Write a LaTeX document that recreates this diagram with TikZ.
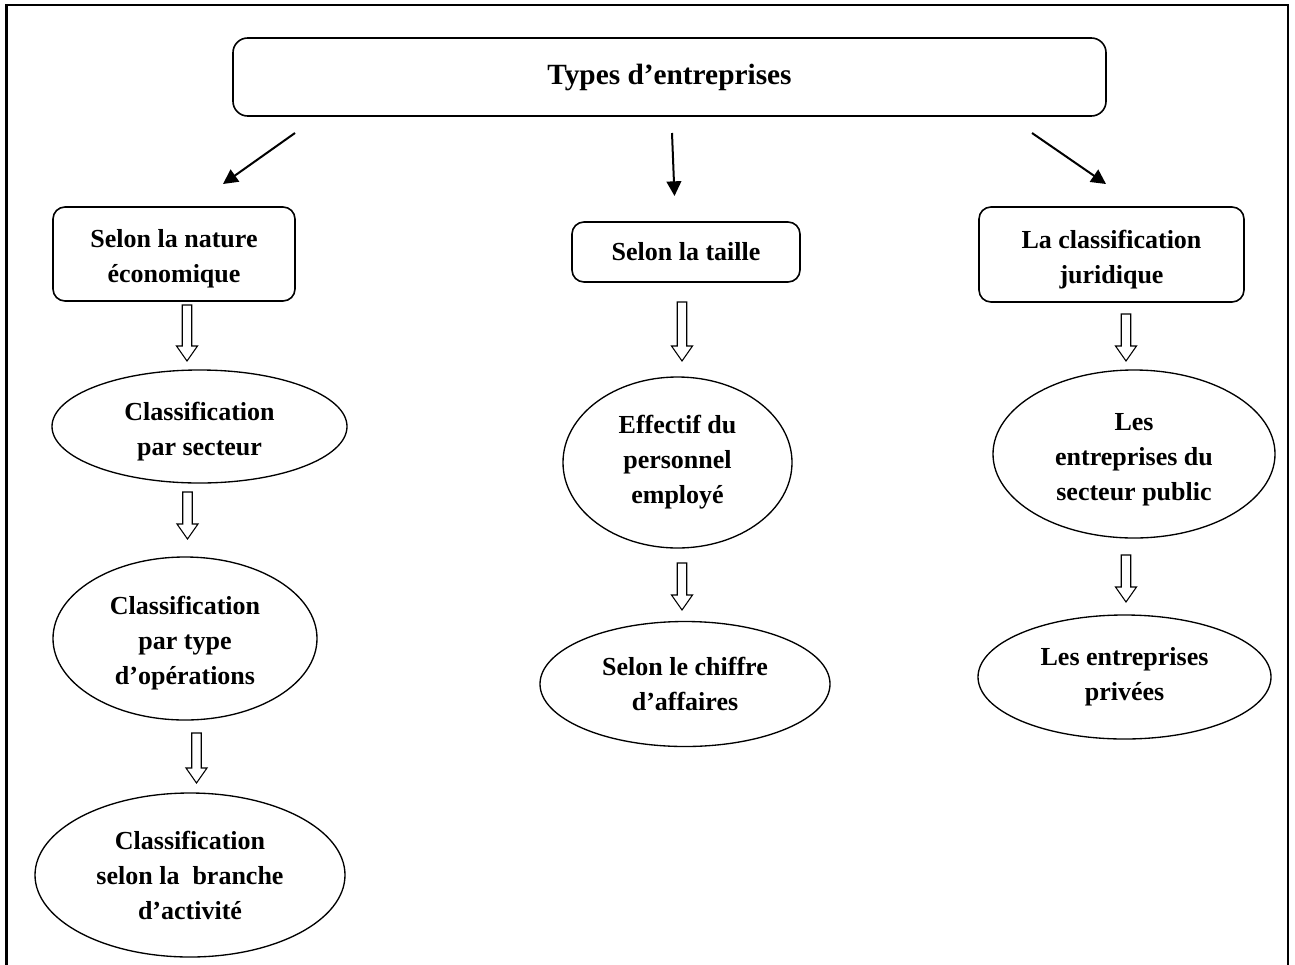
\documentclass[tikz,border=0pt]{standalone}
\usepackage{fontspec}
\setmainfont{Liberation Serif}
\usetikzlibrary{arrows.meta,shapes.geometric}
\tikzset{
  txt/.style={font=\bfseries\fontsize{19.5}{26.25}\selectfont, align=center, inner sep=0pt},
  rbox/.style={txt, draw, line width=1.2pt, rounded corners=9pt},
  ell/.style={txt, draw, ellipse, line width=1pt},
  toparrow/.style={line width=1.5pt, -{Triangle[length=11pt,width=11pt]}},
  hollow/.style={draw, line width=0.8pt, line join=miter, fill=white},
  frame/.style={line width=2.2pt}
}
\newcommand{\hollowarrow}[3]{%
  \draw[hollow] (#1-4.75,#2) -- (#1+4.75,#2) -- (#1+4.75,#3-15) -- (#1+10.5,#3-15)
     -- (#1,#3) -- (#1-10.5,#3-15) -- (#1-4.75,#3-15) -- cycle;}
\newcommand{\up}{\rule{0pt}{21pt}}
\begin{document}
\begin{tikzpicture}[x=0.75pt,y=-0.75pt]
\useasboundingbox (0,0) rectangle (1295,964);
\clip (0,0) rectangle (1295,964);
\fill[white] (0,0) rectangle (1295,964);
% outer frame
\draw[frame] (6.5,980) -- (6.5,5) -- (1288,5) -- (1288,980);

% top box
\node[rbox, rounded corners=11pt, minimum width=654.75pt, minimum height=58.5pt, font=\bfseries\fontsize{22}{26}\selectfont] (top) at (669.5,77) {Types d’entreprises};

% level 1 boxes
\node[rbox, minimum width=181.5pt, minimum height=70.5pt] (b1) at (174,254) {\up Selon la nature\\économique};
\node[rbox, minimum width=171pt, minimum height=45pt] (b2) at (686,252) {Selon la taille};
\node[rbox, minimum width=198.75pt, minimum height=71.25pt] (b3) at (1111.5,254.5) {\up La classification\\juridique};

% ellipses
\node[ell, minimum width=221.25pt, minimum height=84.75pt] (e1) at (199.5,426.5) {\up Classification\\par secteur};
\node[ell, minimum width=198pt, minimum height=122.25pt] (e2) at (185,638.5) {\up Classification\\par type\\d’opérations};
\node[ell, minimum width=232.5pt, minimum height=123pt] (e3) at (190,875) {Classification\\selon la~ branche\\d’activité};
\node[ell, minimum width=171.75pt, minimum height=128.25pt] (e4) at (677.5,462.5) {Effectif du\\personnel\\employé};
\node[ell, minimum width=217.5pt, minimum height=93.75pt] (e5) at (685,684) {Selon le chiffre\\d’affaires};
\node[ell, minimum width=211.5pt, minimum height=126pt] (e6) at (1134,454) {\up Les\\entreprises du\\secteur public};
\node[ell, minimum width=219.75pt, minimum height=93pt] (e7) at (1124.5,677) {Les entreprises\\privées};

% top arrows
\coordinate (t1s) at (295,133); \coordinate (t1e) at (223,184);
\coordinate (t2s) at (672,133); \coordinate (t2e) at (674.5,196);
\coordinate (t3s) at (1032,133); \coordinate (t3e) at (1106,184);
\draw[toparrow] (t1s) -- (t1e);
\draw[toparrow] (t2s) -- (t2e);
\draw[toparrow] (t3s) -- (t3e);

% hollow arrows
\hollowarrow{187}{305}{361}
\hollowarrow{187.5}{492}{539}
\hollowarrow{196.5}{733}{783}
\hollowarrow{682}{302}{361}
\hollowarrow{682}{563}{610}
\hollowarrow{1126}{314}{361}
\hollowarrow{1126}{555}{602}
\end{tikzpicture}
\end{document}
